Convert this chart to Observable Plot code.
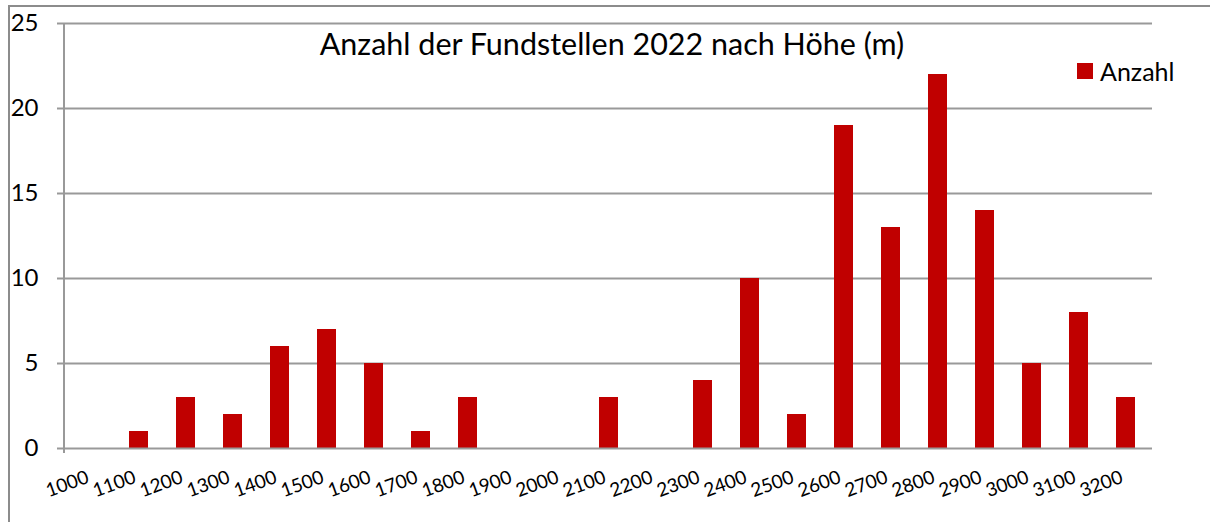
<!DOCTYPE html>
<html>
<head>
<meta charset="utf-8">
<script src="https://cdn.jsdelivr.net/npm/d3@7"></script>
<script src="https://cdn.jsdelivr.net/npm/@observablehq/plot@0.6"></script>
<style>
  html, body { margin: 0; padding: 0; background: #fff; overflow: hidden; }
  #wrap { position: relative; width: 1210px; height: 522px; font-family: Lato, "Open Sans", sans-serif; }
  #frame { position: absolute; left: 8px; top: 5px; width: 1220px; height: 540px; border: 2px solid #8c8c8c; box-sizing: border-box; }
  #title { position: absolute; left: 0; width: 1224px; top: 25px; text-align: center; font-size: 30.5px; color: #000; white-space: nowrap; }
  #legend { position: absolute; left: 1077px; top: 56px; font-size: 25px; color: #000; display: flex; align-items: center; }
  #legend .sw { width: 16px; height: 16px; background: #C00000; margin-right: 7px; }
  #chart { position: absolute; left: 0; top: 0; }
  #chart svg g[aria-label="y-axis tick label"] text { font-size: 24px; }
  #chart svg g[aria-label="x-axis tick label"] text { font-size: 19px; }
</style>
</head>
<body>
<div id="wrap">
  <div id="frame"></div>
  <div id="chart"></div>
  <div id="title">Anzahl der Fundstellen 2022 nach Höhe (m)</div>
  <div id="legend"><div class="sw"></div><span>Anzahl</span></div>
</div>
<script>
const heights = ["1000","1100","1200","1300","1400","1500","1600","1700","1800","1900","2000","2100","2200","2300","2400","2500","2600","2700","2800","2900","3000","3100","3200"];
const counts  = [0, 1, 3, 2, 6, 7, 5, 1, 3, 0, 0, 3, 0, 4, 10, 2, 19, 13, 22, 14, 5, 8, 3];
const yTicks = [0, 5, 10, 15, 20, 25];

const data = heights.map((h, i) => ({h, n: counts[i]}));

const yAxisLine = (index, scales, values, dims) => {
  const x = dims.marginLeft;
  const line = d3.create("svg:line")
    .attr("x1", x).attr("x2", x)
    .attr("y1", dims.marginTop)
    .attr("y2", dims.height - dims.marginBottom + 5)
    .attr("stroke", "#999").attr("stroke-width", 2);
  return line.node();
};

const chart = Plot.plot({
  width: 1210,
  height: 522,
  marginLeft: 64,
  marginRight: 58,
  marginTop: 23,
  marginBottom: 74,
  style: { fontFamily: "Lato, 'Open Sans', sans-serif", color: "#000", background: "transparent", overflow: "visible" },
  x: { domain: heights, paddingInner: 0.6, paddingOuter: 0.3, label: null },
  y: { domain: [0, 25], label: null },
  marks: [
    Plot.ruleY(yTicks.filter(d => d > 0), { stroke: "#999", strokeWidth: 2 }),
    Plot.barY(data, { x: "h", y: "n", fill: "#C00000" }),
    Plot.ruleY([0], { stroke: "#999", strokeWidth: 2 }),
    yAxisLine,
    Plot.axisY({ ticks: yTicks, tickSize: 7, tickPadding: 19, stroke: "#999", strokeWidth: 2, fill: "#000" }),
    Plot.axisX({ tickSize: 0, tickRotate: -20, tickPadding: 28, dx: -4, fill: "#000" })
  ]
});
document.getElementById("chart").appendChild(chart);
</script>
</body>
</html>
